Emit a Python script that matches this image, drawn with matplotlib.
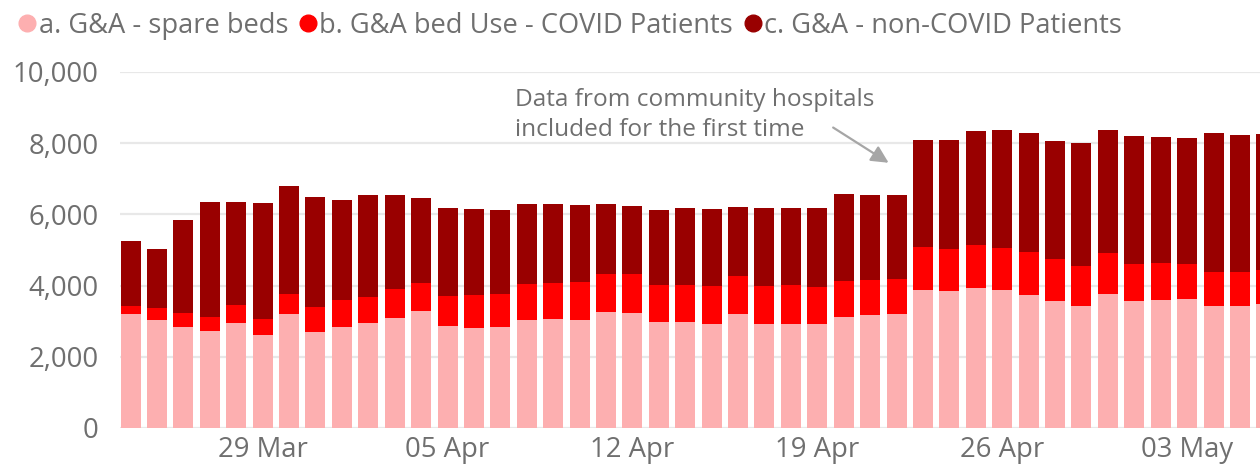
import matplotlib
matplotlib.use("Agg")
import matplotlib.pyplot as plt
from matplotlib.lines import Line2D
from matplotlib.ticker import FuncFormatter
import numpy as np
import pandas as pd

plt.rcParams['font.family'] = ['Open Sans', 'DejaVu Sans']

# daily G&A beds, 24 Mar - 06 May
dates = pd.date_range("2020-03-24", "2020-05-06")
spare_beds = [3200, 3040, 2840, 2715, 2950, 2600, 3210, 2700, 2830, 2940,
              3100, 3285, 2855, 2820, 2845, 3035, 3060, 3025, 3250, 3230,
              2985, 2970, 2930, 3195, 2920, 2920, 2920, 3120, 3175, 3200,
              3885, 3840, 3925, 3865, 3735, 3565, 3415, 3765, 3575, 3605,
              3635, 3415, 3415, 3480]
covid_beds = [235, 330, 385, 410, 505, 470, 560, 700, 765, 750,
              815, 795, 850, 905, 910, 1020, 1010, 1070, 1065, 1105,
              1020, 1040, 1065, 1065, 1060, 1085, 1040, 1020, 975, 985,
              1205, 1190, 1215, 1200, 1200, 1170, 1135, 1150, 1025, 1035,
              960, 960, 960, 955]
noncovid_beds = [1815, 1660, 2630, 3220, 2900, 3250, 3035, 3100, 2820, 2855,
                 2630, 2380, 2480, 2425, 2380, 2240, 2210, 2155, 1965, 1900,
                 2110, 2170, 2170, 1955, 2190, 2165, 2220, 2425, 2395, 2370,
                 3000, 3070, 3195, 3305, 3345, 3325, 3445, 3455, 3595, 3540,
                 3555, 3910, 3850, 3810]
tick_labels = ["29 Mar", "05 Apr", "12 Apr", "19 Apr", "26 Apr", "03 May"]

labels = ["a. G&A - spare beds", "b. G&A bed Use - COVID Patients",
          "c. G&A - non-COVID Patients"]
colors = ["#FDAFB0", "#FF0000", "#990000"]
grey = "#6f6f6f"

x = np.arange(len(dates))
spare = np.array(spare_beds)
covid = np.array(covid_beds)
noncovid = np.array(noncovid_beds)

fig = plt.figure(figsize=(12.6, 4.72), dpi=100)
ax = fig.add_axes([120.5 / 1260, 44 / 472, 1 - 120.5 / 1260, 356 / 472])

w = 0.757
ax.bar(x, spare, w, color=colors[0], zorder=2)
ax.bar(x, covid, w, bottom=spare, color=colors[1], zorder=2)
ax.bar(x, noncovid, w, bottom=spare + covid, color=colors[2], zorder=2)

ax.set_xlim(-0.38, 42.76)
ax.set_ylim(0, 10000)
ax.set_yticks(range(0, 10001, 2000))
ax.yaxis.set_major_formatter(FuncFormatter(lambda v, p: f"{int(v):,}"))
ax.grid(axis='y', color='#e8e8e8', lw=1.6, zorder=0)
ax.set_axisbelow(True)
for s in ax.spines.values():
    s.set_visible(False)

tick_pos = [list(dates.strftime("%d %b")).index(t) for t in tick_labels]
ax.set_xticks(tick_pos)
ax.set_xticklabels(tick_labels)
ax.tick_params(axis='both', length=0, labelsize=19.8, labelcolor=grey)
ax.tick_params(axis='y', pad=16)
ax.tick_params(axis='x', pad=6)

ax.text(14.55, 9560, "Data from community hospitals\nincluded for the first time",
        fontsize=17.6, color=grey, va='top', ha='left', linespacing=1.36)
ax.annotate("", xy=(28.7, 7450), xytext=(26.6, 8440),
            arrowprops=dict(arrowstyle='-|>', color='#a6a6a6', lw=1.6,
                            mutation_scale=26, shrinkA=0, shrinkB=0))

handles = [Line2D([], [], marker='o', ls='', color=c, markersize=12) for c in colors]
fig.legend(handles, labels, loc='upper left', bbox_to_anchor=(0.0, 1.016), ncol=3,
           frameon=False, fontsize=19.6, labelcolor=grey, handlelength=0.6,
           handletextpad=0.12, columnspacing=0.42, borderaxespad=0.3)

fig.savefig("out.png", dpi=100)
